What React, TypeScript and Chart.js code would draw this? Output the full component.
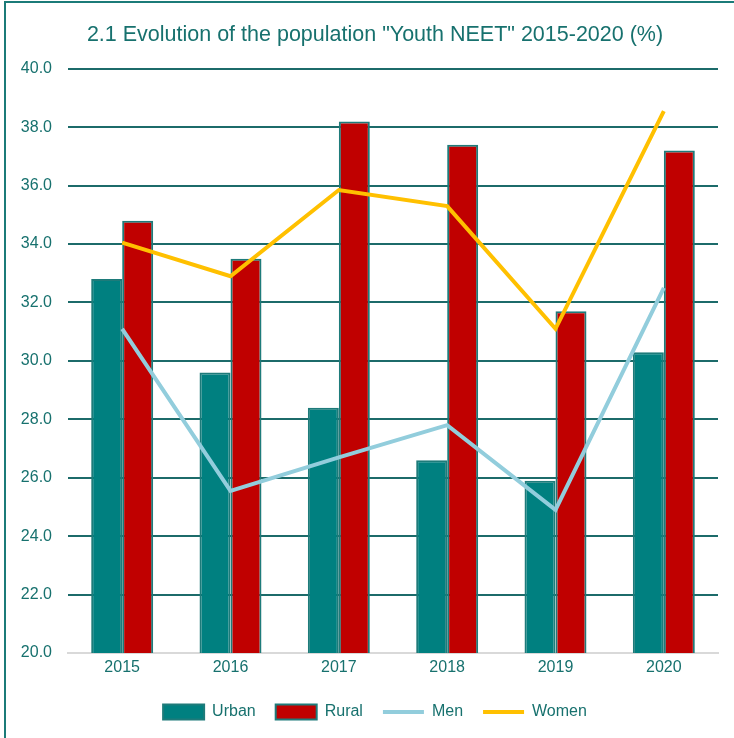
import React, { useEffect, useRef } from "react";
import { Chart, registerables } from "chart.js";

Chart.register(...registerables);

const categories = ["2015", "2016", "2017", "2018", "2019", "2020"];
const urban = [32.8, 29.6, 28.4, 26.6, 25.9, 30.3];
const rural = [34.8, 33.5, 38.2, 37.4, 31.7, 37.2];
const men = [31.1, 25.55, 26.7, 27.8, 24.9, 32.5];
const women = [34.05, 32.9, 35.85, 35.3, 31.1, 38.55];

const titleText = '2.1 Evolution of the population "Youth NEET" 2015-2020 (%)';
const FONT = "'Liberation Sans', Arial, sans-serif";
const TEXT = "#17716E";
const GRID = "#1C6B6A";
const BAR_EDGE = "#1E7B7A";

export default function App() {
  const ref = useRef<HTMLCanvasElement | null>(null);

  useEffect(() => {
    if (!ref.current) return;
    const chart = new Chart(ref.current, {
      type: "bar",
      data: {
        labels: categories,
        datasets: [
          {
            type: "bar",
            label: "Urban",
            data: urban,
            backgroundColor: "#008080",
            borderColor: BAR_EDGE,
            borderWidth: 2,
            pointStyle: "rect",
            order: 2,
          } as any,
          {
            type: "bar",
            label: "Rural",
            data: rural,
            backgroundColor: "#C00000",
            borderColor: BAR_EDGE,
            borderWidth: 2,
            pointStyle: "rect",
            order: 2,
          } as any,
          {
            type: "line",
            label: "Men",
            data: men,
            borderColor: "#92CDDC",
            backgroundColor: "#92CDDC",
            borderWidth: 4,
            pointRadius: 0,
            pointHoverRadius: 0,
            pointStyle: "line",
            tension: 0,
            order: 1,
          } as any,
          {
            type: "line",
            label: "Women",
            data: women,
            borderColor: "#FFC000",
            backgroundColor: "#FFC000",
            borderWidth: 4,
            pointRadius: 0,
            pointHoverRadius: 0,
            pointStyle: "line",
            tension: 0,
            order: 1,
          } as any,
        ],
      },
      options: {
        animation: false,
        responsive: false,
        maintainAspectRatio: false,
        layout: { padding: { left: 16, right: 0, top: 0, bottom: 8 } },
        datasets: {
          bar: { categoryPercentage: 0.572, barPercentage: 1.0 },
        } as any,
        plugins: {
          title: {
            display: true,
            text: titleText,
            color: TEXT,
            font: { family: FONT, size: 21.5, weight: "normal" },
            padding: { top: 22, bottom: 21 },
          },
          legend: {
            position: "bottom",
            labels: {
              usePointStyle: true,
              pointStyleWidth: 41,
              boxHeight: 15,
              color: TEXT,
              font: { family: FONT, size: 16 },
              padding: 20,
              sort: (a: any, b: any) => a.datasetIndex - b.datasetIndex,
            },
          },
          tooltip: { enabled: false },
        },
        scales: {
          x: {
            offset: true,
            afterFit: (scale: any) => {
              scale.height = 31;
            },
            grid: { display: false, drawTicks: false },
            border: { display: true, color: "#D9D9D9", width: 2 },
            ticks: { color: TEXT, font: { family: FONT, size: 16 }, padding: 5 },
          },
          y: {
            min: 20,
            max: 40,
            afterFit: (scale: any) => {
              scale.width = 52;
            },
            ticks: {
              stepSize: 2,
              color: TEXT,
              font: { family: FONT, size: 16 },
              padding: 16,
              callback: (v: any) => Number(v).toFixed(1),
            },
            grid: {
              drawTicks: false,
              lineWidth: 2,
              color: (ctx: any) => (ctx.index === 0 ? "rgba(0,0,0,0)" : GRID),
            },
            border: { display: false },
          },
          yRight: {
            position: "right",
            display: true,
            afterFit: (scale: any) => {
              scale.width = 16;
            },
            grid: { display: false, drawTicks: false },
            ticks: { display: false },
            border: { display: false },
          },
        },
      } as any,
    });
    return () => chart.destroy();
  }, []);

  return (
    <div style={{ position: "absolute", left: 0, top: 0, width: 734, height: 738, background: "#fff" }}>
      <div
        style={{
          position: "absolute",
          left: 4,
          top: 1,
          width: 730,
          height: 737,
          borderLeft: "2px solid #1B7B78",
          borderTop: "2px solid #1B7B78",
          boxSizing: "border-box",
        }}
      />
      <canvas ref={ref} width={734} height={738} style={{ position: "absolute", left: 0, top: 0 }} />
    </div>
  );
}
